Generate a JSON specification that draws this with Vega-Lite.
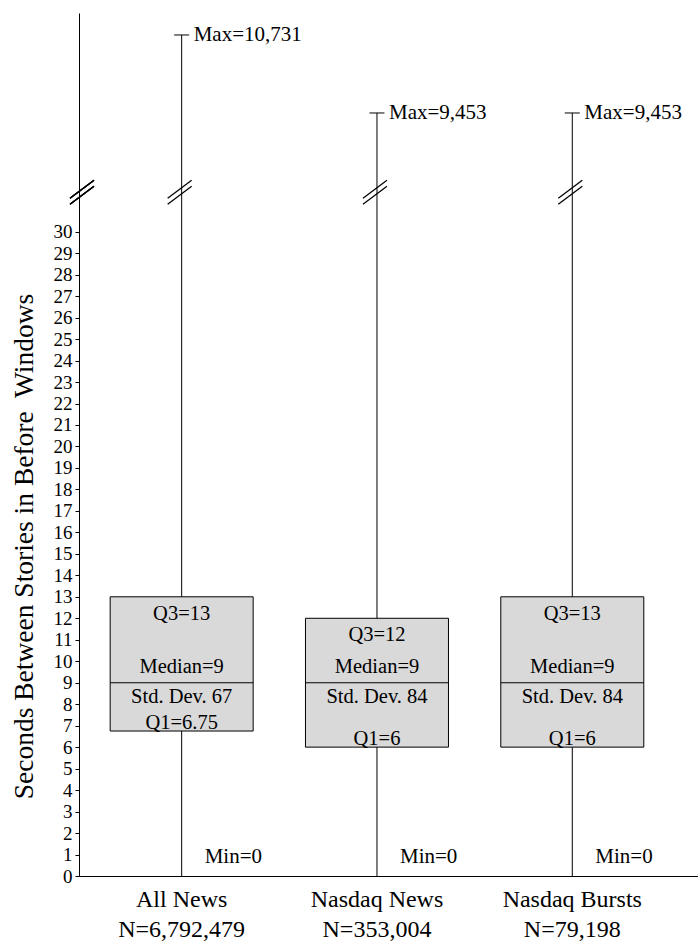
{
  "$schema": "https://vega.github.io/schema/vega-lite/v6.json",
  "autosize": "none",
  "width": 619,
  "height": 863,
  "padding": {"left": 79, "top": 13, "right": 0, "bottom": 67},
  "config": {
    "font": "Liberation Serif",
    "view": {"stroke": null},
    "axis": {"grid": false, "domainColor": "#000", "tickColor": "#000", "labelColor": "#000", "titleColor": "#000"}
  },
  "data": {
    "values": [
      {"group": 1, "name": "All News", "n": "N=6,792,479", "min": 0, "q1": 6.75, "median": 9, "q3": 13, "max": 10731, "q1Label": "Q1=6.75", "medianLabel": "Median=9", "q3Label": "Q3=13", "sdLabel": "Std. Dev. 67", "minLabel": "Min=0", "maxLabel": "Max=10,731"},
      {"group": 2, "name": "Nasdaq News", "n": "N=353,004", "min": 0, "q1": 6, "median": 9, "q3": 12, "max": 9453, "q1Label": "Q1=6", "medianLabel": "Median=9", "q3Label": "Q3=12", "sdLabel": "Std. Dev. 84", "minLabel": "Min=0", "maxLabel": "Max=9,453"},
      {"group": 3, "name": "Nasdaq Bursts", "n": "N=79,198", "min": 0, "q1": 6, "median": 9, "q3": 13, "max": 9453, "q1Label": "Q1=6", "medianLabel": "Median=9", "q3Label": "Q3=13", "sdLabel": "Std. Dev. 84", "minLabel": "Min=0", "maxLabel": "Max=9,453"}
    ]
  },
  "encoding": {
    "x": {
      "field": "group", "type": "quantitative", "title": null,
      "scale": {"domain": [0.5, 3.618], "nice": false, "zero": false},
      "axis": {"labels": false, "ticks": false, "title": null, "domainWidth": 1}
    },
    "y": {
      "field": "min", "type": "quantitative",
      "title": "Seconds Between Stories in Before\u00a0 Windows",
      "scale": {"domain": [0, 32.5, 8404, 11091], "range": [863, 165, 164, 0], "nice": false, "zero": false},
      "axis": {
        "values": [0, 1, 2, 3, 4, 5, 6, 7, 8, 9, 10, 11, 12, 13, 14, 15, 16, 17, 18, 19, 20, 21, 22, 23, 24, 25, 26, 27, 28, 29, 30],
        "tickSize": 4, "labelPadding": 3, "labelFontSize": 19, "labelFlush": false,
        "titleFontSize": 27.5, "titleFontWeight": "normal",
        "titleAngle": 270, "titleAlign": "center", "titleBaseline": "middle",
        "titleX": -55, "titleY": 533
      }
    }
  },
  "layer": [
    {
      "mark": {"type": "rule", "color": "#000", "strokeWidth": 1},
      "encoding": {"y2": {"field": "max"}}
    },
    {
      "mark": {"type": "tick", "orient": "horizontal", "size": 15, "thickness": 1, "color": "#000", "opacity": 1},
      "encoding": {"y": {"field": "max", "type": "quantitative", "title": "Seconds Between Stories in Before\u00a0 Windows"}}
    },
    {
      "mark": {"type": "bar", "size": 143, "fill": "#d9d9d9", "stroke": "#000", "strokeWidth": 1},
      "encoding": {
        "y": {"field": "q1", "type": "quantitative", "title": "Seconds Between Stories in Before\u00a0 Windows"},
        "y2": {"field": "q3"}
      }
    },
    {
      "mark": {"type": "tick", "orient": "horizontal", "size": 143, "thickness": 1, "color": "#000", "opacity": 1},
      "encoding": {"y": {"field": "median", "type": "quantitative", "title": "Seconds Between Stories in Before\u00a0 Windows"}}
    },
    {
      "mark": {"type": "rule", "color": "#000", "strokeWidth": 1.3, "xOffset": -14, "yOffset": 6, "x2Offset": 10, "y2Offset": -12},
      "encoding": {
        "x2": {"field": "group"},
        "y": {"datum": 31.84, "type": "quantitative", "title": "Seconds Between Stories in Before\u00a0 Windows"},
        "y2": {"datum": 31.84}
      }
    },
    {
      "mark": {"type": "rule", "color": "#000", "strokeWidth": 1.3, "xOffset": -14, "yOffset": 12, "x2Offset": 10, "y2Offset": -6},
      "encoding": {
        "x2": {"field": "group"},
        "y": {"datum": 31.84, "type": "quantitative", "title": "Seconds Between Stories in Before\u00a0 Windows"},
        "y2": {"datum": 31.84}
      }
    },
    {
      "mark": {"type": "rule", "color": "#000", "strokeWidth": 1.3, "xOffset": -14, "yOffset": 6, "x2Offset": 10, "y2Offset": -12},
      "encoding": {
        "x": {"datum": 0.5, "type": "quantitative", "title": null},
        "x2": {"datum": 0.5},
        "y": {"datum": 31.84, "type": "quantitative", "title": "Seconds Between Stories in Before\u00a0 Windows"},
        "y2": {"datum": 31.84}
      }
    },
    {
      "mark": {"type": "rule", "color": "#000", "strokeWidth": 1.3, "xOffset": -14, "yOffset": 12, "x2Offset": 10, "y2Offset": -6},
      "encoding": {
        "x": {"datum": 0.5, "type": "quantitative", "title": null},
        "x2": {"datum": 0.5},
        "y": {"datum": 31.84, "type": "quantitative", "title": "Seconds Between Stories in Before\u00a0 Windows"},
        "y2": {"datum": 31.84}
      }
    },
    {
      "mark": {"type": "text", "fontSize": 21, "align": "left", "baseline": "middle", "dx": 12, "color": "#000"},
      "encoding": {
        "y": {"field": "max", "type": "quantitative", "title": "Seconds Between Stories in Before\u00a0 Windows"},
        "text": {"field": "maxLabel"}
      }
    },
    {
      "mark": {"type": "text", "fontSize": 21, "align": "left", "baseline": "alphabetic", "dx": 23, "dy": -13, "color": "#000"},
      "encoding": {"text": {"field": "minLabel"}}
    },
    {
      "mark": {"type": "text", "fontSize": 20.5, "align": "center", "baseline": "middle", "dy": 17, "color": "#000"},
      "encoding": {
        "y": {"field": "q3", "type": "quantitative", "title": "Seconds Between Stories in Before\u00a0 Windows"},
        "text": {"field": "q3Label"}
      }
    },
    {
      "mark": {"type": "text", "fontSize": 20.5, "align": "center", "baseline": "middle", "dy": -16, "color": "#000"},
      "encoding": {
        "y": {"field": "median", "type": "quantitative", "title": "Seconds Between Stories in Before\u00a0 Windows"},
        "text": {"field": "medianLabel"}
      }
    },
    {
      "mark": {"type": "text", "fontSize": 20.5, "align": "center", "baseline": "middle", "dy": 14, "color": "#000"},
      "encoding": {
        "y": {"field": "median", "type": "quantitative", "title": "Seconds Between Stories in Before\u00a0 Windows"},
        "text": {"field": "sdLabel"}
      }
    },
    {
      "mark": {"type": "text", "fontSize": 20.5, "align": "center", "baseline": "middle", "dy": -8, "color": "#000"},
      "encoding": {
        "y": {"field": "q1", "type": "quantitative", "title": "Seconds Between Stories in Before\u00a0 Windows"},
        "text": {"field": "q1Label"}
      }
    },
    {
      "mark": {"type": "text", "fontSize": 24, "align": "center", "baseline": "middle", "dy": 24, "color": "#000"},
      "encoding": {"text": {"field": "name"}}
    },
    {
      "mark": {"type": "text", "fontSize": 24, "align": "center", "baseline": "middle", "dy": 54, "color": "#000"},
      "encoding": {"text": {"field": "n"}}
    }
  ]
}
